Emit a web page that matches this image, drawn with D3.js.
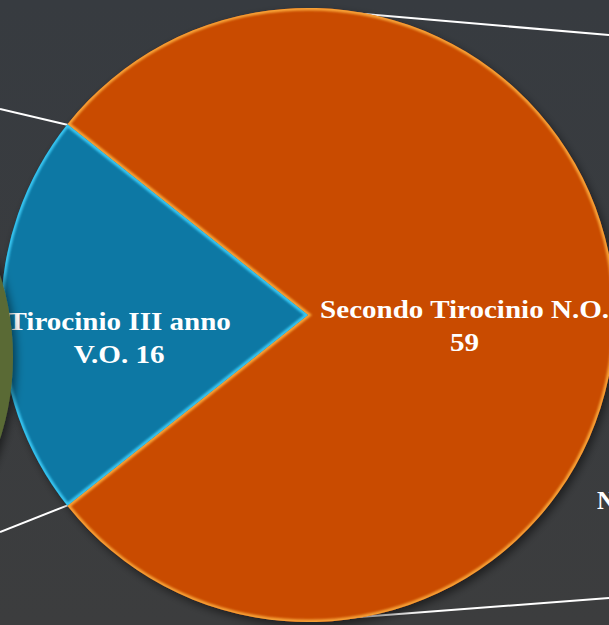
<!DOCTYPE html>
<html>
<head>
<meta charset="utf-8">
<script src="https://cdn.jsdelivr.net/npm/d3@7"></script>
<style>
  html, body { margin: 0; padding: 0; background: #3a3d41; overflow: hidden; }
  svg { display: block; }
  .label { font-family: "Liberation Serif", "DejaVu Serif", serif; font-weight: bold; fill: #fff; }
</style>
</head>
<body>
<svg id="chart"></svg>
<script>
// slice data
const categories = ["Secondo Tirocinio N.O.", "Tirocinio III anno V.O."];
const labelLines = [["Secondo Tirocinio N.O.", "59"], ["Tirocinio III anno", "V.O. 16"]];
const values = [59, 16];
const colors = ["#c94b03", "#0878a4"];
const rimColors = ["#ffb040", "#40d4ff"];

const width = 609, height = 625;
const cx = 308, cy = 315, radius = 307;

const svg = d3.select("#chart").attr("width", width).attr("height", height);

// background + filters
const defs = svg.append("defs");
const bg = defs.append("linearGradient").attr("id", "bg")
  .attr("x1", 0).attr("y1", 0).attr("x2", 0).attr("y2", 1);
bg.append("stop").attr("offset", "0%").attr("stop-color", "#373b40");
bg.append("stop").attr("offset", "100%").attr("stop-color", "#3c3d3e");

const shadow = defs.append("filter").attr("id", "shadow")
  .attr("x", "-20%").attr("y", "-20%").attr("width", "140%").attr("height", "140%");
shadow.append("feDropShadow").attr("dx", 3).attr("dy", 4)
  .attr("stdDeviation", 4).attr("flood-color", "#000").attr("flood-opacity", 0.5);

const blur = defs.append("filter").attr("id", "blur");
blur.append("feGaussianBlur").attr("stdDeviation", 1.2);

svg.append("rect").attr("width", width).attr("height", height).attr("fill", "url(#bg)");

// pie layout: blue slice centred on the left
const blueSpan = values[1] / d3.sum(values) * 2 * Math.PI;
const start = 1.5 * Math.PI - blueSpan / 2 - (2 * Math.PI - blueSpan);
const pie = d3.pie().sort(null).value(d => d)
  .startAngle(start).endAngle(start + 2 * Math.PI);
const arcs = pie(values);

const arc = d3.arc().innerRadius(0).outerRadius(radius);

const g = svg.append("g").attr("transform", `translate(${cx},${cy})`);

// leader lines (from slice boundaries / top & bottom of the pie out of frame)
const pt = (a, r) => [r * Math.sin(a), -r * Math.cos(a)];
const leaders = [
  [pt(arcs[1].endAngle, radius - 1), [-cx, 109 - cy]],
  [pt(arcs[1].startAngle, radius - 1), [-cx, 532 - cy]],
  [pt(0.137, radius - 2), [width - cx, 35 - cy]],
  [pt(Math.PI - 0.072, radius - 2), [width - cx, 598 - cy]]
];
g.selectAll(".leader").data(leaders).join("line")
  .attr("class", "leader")
  .attr("x1", d => d[0][0]).attr("y1", d => d[0][1])
  .attr("x2", d => d[1][0]).attr("y2", d => d[1][1])
  .attr("stroke", "#fff").attr("stroke-width", 2);

const pieG = g.append("g").attr("filter", "url(#shadow)");

arcs.forEach((d, i) => {
  defs.append("clipPath").attr("id", "clip" + i)
    .append("path").attr("transform", `translate(${cx},${cy})`).attr("d", arc(d));
});

pieG.selectAll(".slice").data(arcs).join("path")
  .attr("class", "slice")
  .attr("d", arc)
  .attr("fill", (d, i) => colors[i]);

// bevel rim inside each slice
const rims = g.append("g");
arcs.forEach((d, i) => {
  rims.append("g")
    .attr("transform", `translate(${-cx},${-cy})`)
    .attr("clip-path", `url(#clip${i})`)
    .append("path")
    .attr("transform", `translate(${cx},${cy})`)
    .attr("d", arc(d))
    .attr("fill", "none")
    .attr("stroke", rimColors[i])
    .attr("stroke-width", 5)
    .attr("stroke-opacity", 0.85)
    .attr("filter", "url(#blur)");
});

// edge of the neighbouring pie, left side (drawn over the blue slice)
svg.append("circle").attr("cx", -252).attr("cy", 357).attr("r", 265)
  .attr("fill", "#5a6b34").attr("filter", "url(#shadow)");

// labels
const labelRadius = [0.51 * radius, 0.615 * radius];
const labelDy = [0, 12];
const labels = g.selectAll(".label").data(arcs).join("text")
  .attr("class", "label")
  .attr("text-anchor", "middle")
  .attr("font-size", 25.5)
  .attr("transform", (d, i) => {
    const c = d3.arc().innerRadius(labelRadius[i]).outerRadius(labelRadius[i]).centroid(d);
    return `translate(${c[0]},${c[1] + labelDy[i]}) scale(1.14,1)`;
  });
labels.selectAll("tspan").data((d, i) => labelLines[i]).join("tspan")
  .attr("x", 0)
  .attr("y", (t, j) => j === 0 ? 3 : 36)
  .text(t => t);

// clipped label of the neighbouring slide element
svg.append("text").attr("class", "label").attr("font-size", 25)
  .attr("x", 597).attr("y", 509).text("N");
</script>
</body>
</html>
